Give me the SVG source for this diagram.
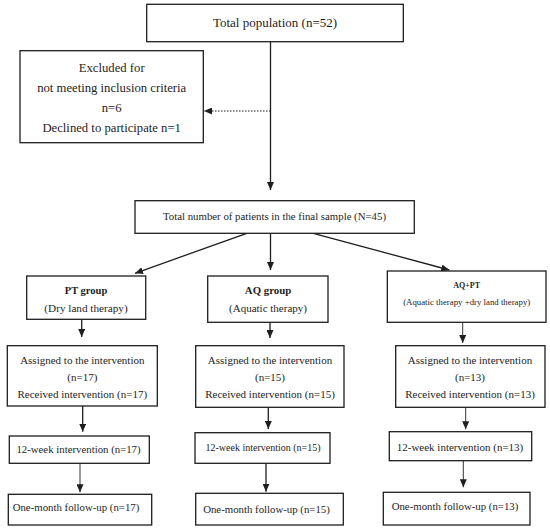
<svg xmlns="http://www.w3.org/2000/svg" width="550" height="529" viewBox="0 0 550 529">
<style>
.box{fill:#fff;stroke:#1e1e1e;stroke-width:1.3}
.t{font-family:"Liberation Serif","Times New Roman",serif;fill:#1e1e1e;text-anchor:middle}
.b{font-weight:bold}
.ln{stroke:#1e1e1e;stroke-width:1.3;fill:none}
.thin{stroke-width:0.9}
.dot{stroke-dasharray:1.5 1.5;stroke-width:1}
</style>
<defs>
<marker id="ah" viewBox="0 0 8 7" refX="8" refY="3.5" markerWidth="8" markerHeight="7" markerUnits="userSpaceOnUse" orient="auto">
<path d="M0,0 L8,3.5 L0,7 z" fill="#1e1e1e"/>
</marker>
</defs>
<rect width="550" height="529" fill="#fff"/>

<g id="connectors">
<line class="ln" x1="270.5" y1="41.7" x2="270.5" y2="190" marker-end="url(#ah)"/>
<line class="ln dot" x1="270.5" y1="111" x2="204" y2="111" marker-end="url(#ah)"/>
<line class="ln" x1="246.7" y1="233.3" x2="135" y2="273.3" marker-end="url(#ah)"/>
<line class="ln" x1="270.5" y1="233.3" x2="270.5" y2="270" marker-end="url(#ah)"/>
<line class="ln" x1="313.3" y1="233.3" x2="449.3" y2="270" marker-end="url(#ah)"/>
<line class="ln" x1="81.7" y1="319.3" x2="81.7" y2="337" marker-end="url(#ah)"/>
<line class="ln" x1="270" y1="322.3" x2="270" y2="338" marker-end="url(#ah)"/>
<line class="ln thin" x1="462.7" y1="322.3" x2="462.7" y2="343" marker-end="url(#ah)"/>
<line class="ln" x1="82.7" y1="406" x2="82.7" y2="431.7" marker-end="url(#ah)"/>
<line class="ln" x1="268.3" y1="407.3" x2="268.3" y2="429" marker-end="url(#ah)"/>
<line class="ln thin" x1="465.7" y1="407.3" x2="465.7" y2="429.3" marker-end="url(#ah)"/>
<line class="ln thin" x1="80" y1="463.3" x2="80" y2="492.3" marker-end="url(#ah)"/>
<line class="ln" x1="266" y1="463.3" x2="266" y2="491.7" marker-end="url(#ah)"/>
<line class="ln thin" x1="463.3" y1="460.7" x2="463.3" y2="487.3" marker-end="url(#ah)"/>
</g>

<g id="total">
<rect class="box" x="146.7" y="4.3" width="256.6" height="37.4"/>
<text class="t" x="275" y="27" font-size="13">Total population (n=52)</text>
</g>

<g id="excluded">
<rect class="box" x="20" y="50.7" width="183.3" height="92"/>
<text class="t" x="111.7" y="72" font-size="12.7">Excluded for</text>
<text class="t" x="111.7" y="92" font-size="12.7">not meeting inclusion criteria</text>
<text class="t" x="111.7" y="112" font-size="12.7">n=6</text>
<text class="t" x="111.7" y="131.5" font-size="12.7">Declined to participate n=1</text>
</g>

<g id="final">
<rect class="box" x="135" y="200.7" width="279.3" height="32.6"/>
<text class="t" x="274.5" y="220.3" font-size="10.8">Total number of patients in the final sample (N=45)</text>
</g>

<g id="pt-group">
<rect class="box" x="26.7" y="276" width="119" height="43.3"/>
<text class="t b" x="86" y="293.8" font-size="10.5">PT group</text>
<text class="t" x="86" y="312" font-size="11.2">(Dry land therapy)</text>
</g>

<g id="aq-group">
<rect class="box" x="207.7" y="276" width="120.3" height="46.3"/>
<text class="t b" x="268" y="293.8" font-size="10.8">AQ group</text>
<text class="t" x="268" y="312" font-size="11">(Aquatic therapy)</text>
</g>

<g id="aqpt-group">
<rect class="box" x="387.3" y="271" width="158.7" height="51.3"/>
<text class="t b" x="466.7" y="287.7" font-size="8">AQ+PT</text>
<text class="t" x="466.7" y="304.6" font-size="8.8">(Aquatic therapy +dry land therapy)</text>
</g>

<g id="pt-assigned">
<rect class="box" x="7.3" y="345.7" width="150" height="60.3"/>
<text class="t" x="82.3" y="363.8" font-size="11">Assigned to the intervention</text>
<text class="t" x="82.3" y="381.3" font-size="11">(n=17)</text>
<text class="t" x="82.3" y="398" font-size="11">Received intervention (n=17)</text>
</g>

<g id="aq-assigned">
<rect class="box" x="195.7" y="345.7" width="148.3" height="61.6"/>
<text class="t" x="270" y="363.8" font-size="11">Assigned to the intervention</text>
<text class="t" x="270" y="381.3" font-size="11">(n=15)</text>
<text class="t" x="270" y="398" font-size="11">Received intervention (n=15)</text>
</g>

<g id="aqpt-assigned">
<rect class="box" x="395.7" y="345.7" width="149.3" height="61.6"/>
<text class="t" x="470" y="363.8" font-size="11">Assigned to the intervention</text>
<text class="t" x="470" y="381.3" font-size="11">(n=13)</text>
<text class="t" x="470" y="398" font-size="11">Received intervention (n=13)</text>
</g>

<g id="pt-12week">
<rect class="box" x="9.3" y="436" width="140" height="27.3"/>
<text class="t" x="78.5" y="452.8" font-size="10.8">12-week intervention (n=17)</text>
</g>

<g id="aq-12week">
<rect class="box" x="195" y="432.7" width="135" height="30.6"/>
<text class="t" x="263" y="450.7" font-size="10">12-week intervention (n=15)</text>
</g>

<g id="aqpt-12week">
<rect class="box" x="389.3" y="431.7" width="142.4" height="29"/>
<text class="t" x="460" y="450.5" font-size="11">12-week intervention (n=13)</text>
</g>

<g id="pt-followup">
<rect class="box" x="8.3" y="494.3" width="143.4" height="30.7"/>
<text class="t" x="76" y="511.4" font-size="10.8">One-month follow-up (n=17)</text>
</g>

<g id="aq-followup">
<rect class="box" x="195.7" y="493.3" width="147.6" height="31.7"/>
<text class="t" x="266.5" y="512.8" font-size="10.8">One-month follow-up (n=15)</text>
</g>

<g id="aqpt-followup">
<rect class="box" x="383.3" y="492.3" width="146.7" height="32.7"/>
<text class="t" x="455" y="510.4" font-size="10.8">One-month follow-up (n=13)</text>
</g>
</svg>
